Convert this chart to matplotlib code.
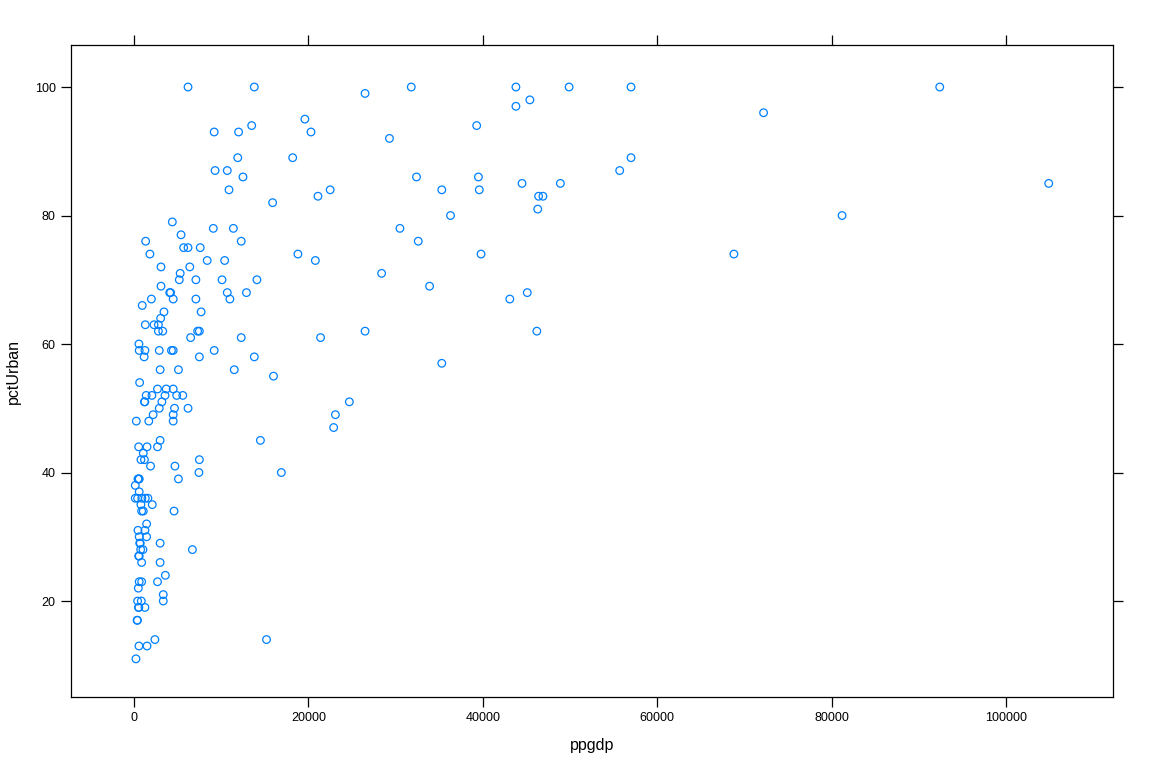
import numpy as np
import matplotlib

matplotlib.use("Agg")
import matplotlib.pyplot as plt

plt.rcParams["font.family"] = ["Liberation Sans", "DejaVu Sans"]

# ppgdp (US$ per person) and pctUrban
ppgdp = [
    6200, 13800, 31800, 43800, 49900, 57000, 92400,
    26500, 45400, 43800, 72200, 19600, 13500, 39300,
    9200, 12000, 20300, 29300, 11900, 18200, 57000,
    9300, 10700, 55700, 12500, 32400, 39500, 44500, 48900, 104900,
    10900, 22500, 35300, 39600, 21100, 46400, 46900, 15900, 46300,
    36300, 81200, 4400, 9100, 11400, 30500, 5400, 1340, 12300, 32600,
    5700, 6200, 7600, 1830, 18800, 39800, 68800, 8400, 10400, 20800,
    3100, 6400, 5300, 28400, 5200, 7100, 10100, 14100, 3100, 33900,
    4100, 4200, 10700, 12900, 45100, 2000, 4500, 7100, 11000, 43100,
    950, 3440, 7700, 3060, 1300, 2300, 2800,
    2800, 3300, 7300, 7500, 26500, 46200, 6500, 12300, 21400, 570,
    600, 1260, 2900, 4300, 4500, 9200, 1170, 7500, 13800, 35300,
    3000, 5100, 11500, 16000, 650, 2700, 3700, 4500,
    1400, 2060, 3560, 4900, 5600, 1200, 1250, 3200, 24700,
    2900, 4650, 6200, 2200, 4500, 23100, 270, 1700, 4500, 22900,
    3000, 14500, 540, 1500, 2700, 1070, 800, 1200, 7500, 1900, 4700,
    7450, 16900, 460, 550, 600, 5100, 150, 600,
    150, 420, 900, 1300, 1600, 800, 2100, 880, 1070, 4600,
    1450, 460, 1260, 600, 1450, 660, 720, 3000, 770, 1030, 6700,
    540, 600, 880, 3000, 3600, 600, 880, 2700, 500, 3360,
    420, 840, 3360, 520, 560, 1260, 360, 400, 2400, 15200, 570, 1500, 230,
]
pct_urban = [
    100, 100, 100, 100, 100, 100, 100,
    99, 98, 97, 96, 95, 94, 94,
    93, 93, 93, 92, 89, 89, 89,
    87, 87, 87, 86, 86, 86, 85, 85, 85,
    84, 84, 84, 84, 83, 83, 83, 82, 81,
    80, 80, 79, 78, 78, 78, 77, 76, 76, 76,
    75, 75, 75, 74, 74, 74, 74, 73, 73, 73,
    72, 72, 71, 71, 70, 70, 70, 70, 69, 69,
    68, 68, 68, 68, 68, 67, 67, 67, 67, 67,
    66, 65, 65, 64, 63, 63, 63,
    62, 62, 62, 62, 62, 62, 61, 61, 61, 60,
    59, 59, 59, 59, 59, 59, 58, 58, 58, 57,
    56, 56, 56, 55, 54, 53, 53, 53,
    52, 52, 52, 52, 52, 51, 51, 51, 51,
    50, 50, 50, 49, 49, 49, 48, 48, 48, 47,
    45, 45, 44, 44, 44, 43, 42, 42, 42, 41, 41,
    40, 40, 39, 39, 39, 39, 38, 37,
    36, 36, 36, 36, 36, 35, 35, 34, 34, 34,
    32, 31, 31, 30, 30, 29, 29, 29, 28, 28, 28,
    27, 27, 26, 26, 24, 23, 23, 23, 22, 21,
    20, 20, 20, 19, 19, 19, 17, 17, 14, 14, 13, 13, 11,
]

x_ticks = [0, 20000, 40000, 60000, 80000, 100000]
y_ticks = [20, 40, 60, 80, 100]

fig = plt.figure(figsize=(11.52, 7.68), dpi=100)
ax = fig.add_axes([71 / 1152, 1 - 697 / 768, 1042 / 1152, 652 / 768])

ax.scatter(ppgdp, pct_urban, s=30, facecolors="none", edgecolors="#0080ff",
           linewidths=0.9)

ax.set_xlim(-7220, 112270)
ax.set_ylim(5.06, 106.54)
ax.set_xticks(x_ticks)
ax.set_yticks(y_ticks)
ax.set_xticklabels([str(v) for v in x_ticks])
ax.set_yticklabels([str(v) for v in y_ticks])

ax.tick_params(direction="out", length=7, width=0.9, labelsize=9,
               top=True, right=True, labeltop=False, labelright=False,
               pad=4)
for sp in ax.spines.values():
    sp.set_linewidth(0.9)

ax.set_xlabel("ppgdp", fontsize=11.5, labelpad=10)
ax.set_ylabel("pctUrban", fontsize=11.5, labelpad=10)

fig.savefig("out.png", dpi=100)
